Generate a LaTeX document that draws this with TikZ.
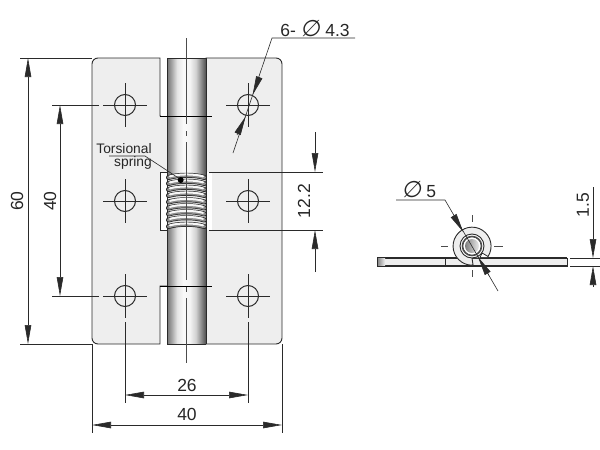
\documentclass[tikz,border=0pt]{standalone}
\usepackage{fontspec}
\setmainfont{Liberation Sans}
\newfontfamily\symfont[FakeSlant=0.15,Scale=1.3]{DejaVu Sans}
\usetikzlibrary{arrows.meta}
\definecolor{platefill}{HTML}{EEEEEE}
\definecolor{inkline}{HTML}{2A2A2A}
\pgfdeclarehorizontalshading{barrelshade}{100bp}{color(0bp)=(black!55); color(25bp)=(black!55); color(31bp)=(black!35); color(38bp)=(black!10); color(46bp)=(black!2); color(54bp)=(black!4); color(62bp)=(black!18); color(70bp)=(black!50); color(75bp)=(black!70); color(100bp)=(black!70)}
\tikzset{
  outline/.style={draw=inkline, line width=0.9pt},
  thinline/.style={draw=inkline, line width=0.6pt},
  centerline/.style={draw=black!70, line width=0.6pt},
  dimline/.style={draw=inkline, line width=0.6pt, {Triangle[length=19pt,width=6.5pt]}-{Triangle[length=19pt,width=6.5pt]}},
  toarrow/.style={draw=inkline, line width=0.6pt, -{Triangle[length=19pt,width=6.5pt]}},
  dimtext/.style={font=\fontsize{17.5}{18}\selectfont, inner sep=0pt, text=black!85},
  notetext/.style={font=\fontsize{13.8}{14}\selectfont, inner sep=0pt, text=black!85}
}
\begin{document}
\begin{tikzpicture}[x=1pt,y=-1pt]
  \useasboundingbox (0,0) rectangle (600,450);
  % plates
  \path[fill=platefill, outline] (160,344) [rounded corners=6pt] -- (92,344) -- (92,58) [sharp corners] -- (160,58) -- (160,116) -- (212,116) -- (212,286) -- (160,286) -- cycle;
  \path[fill=platefill, outline] (206,58) [rounded corners=6pt] -- (282,58) -- (282,344) [sharp corners] -- (206,344) -- cycle;
  \fill[white] (160,172) rectangle (167,230);
  \fill[white] (206.5,172) rectangle (211.5,230);
  \fill[white] (160.5,286.5) rectangle (167,344);
  \fill[white] (160.5,58) rectangle (167,115.5);
  \draw[thinline] (167,172) -- (160,172) -- (160,230) -- (167,230);
  % barrel
  \foreach \ya/\yb in {58/116, 116/176, 226/286, 286/344}
    \shade[shading=barrelshade] (167,\ya) rectangle (206,\yb);
  \draw[outline] (167,58) -- (167,344);
  \draw[outline] (206,58) -- (206,344);
  \draw[outline] (167,58) -- (206,58);
  \draw[outline] (167,344) -- (206,344);
  \draw[draw=black, line width=1pt] (160,116) -- (212,116);
  \draw[draw=black, line width=1pt] (160,286) -- (212,286);
  % spring
  \foreach \y in {176,182,188,194,200.5,206.5,212.5,218.5,225}{
    \draw[black!85, line width=5pt, line cap=round] (168.5,\y+1.5) .. controls (178,\y-1.5) and (195,\y-1.5) .. (204.5,\y+1.5);
    \draw[black!45, line width=3.6pt, line cap=round] (168.5,\y+1.5) .. controls (178,\y-1.5) and (195,\y-1.5) .. (204.5,\y+1.5);
    \draw[black!3, line width=2pt, line cap=round] (170,\y+0.4) .. controls (178,\y-2.2) and (195,\y-2.2) .. (203,\y+0.4);
  }
  % holes
  \foreach \hx in {125,248}
    \foreach \hy in {105,201,296}{
      \draw[outline, line width=1pt] (\hx,\hy) circle (10.5);
      \draw[thinline] (\hx-22,\hy) -- (\hx+22,\hy);
      \draw[thinline] (\hx,\hy-22) -- (\hx,\hy+22);
    }
  % center line of barrel
  \draw[centerline] (186.5,38) -- (186.5,124);
  \draw[centerline] (186.5,131) -- (186.5,136);
  \draw[centerline] (186.5,142) -- (186.5,280);
  \draw[centerline] (186.5,287) -- (186.5,292);
  \draw[centerline] (186.5,298) -- (186.5,363);
  % extension lines
  \draw[thinline] (20,58) -- (92,58);
  \draw[thinline] (20,344) -- (92,344);
  \draw[thinline] (52,105) -- (99,105);
  \draw[thinline] (52,296) -- (99,296);
  \draw[thinline] (92,344) -- (92,433);
  \draw[thinline] (282,344) -- (282,433);
  \draw[thinline] (125,322) -- (125,403);
  \draw[thinline] (248,322) -- (248,403);
  \draw[thinline] (209,172) -- (323,172);
  \draw[thinline] (209,230) -- (323,230);
  % dimensions
  \draw[dimline] (28,58) -- (28,344);
  \draw[dimline] (60,105) -- (60,296);
  \draw[dimline] (125,395) -- (248,395);
  \draw[dimline] (92,425) -- (282,425);
  \draw[toarrow] (315,132) -- (315,172);
  \draw[toarrow] (315,272) -- (315,230);
  \node[dimtext, rotate=90] (lblHeight) at (17,201) {60};
  \node[dimtext, rotate=90] (lblPitchV) at (50,201) {40};
  \node[dimtext] (lblPitchH) at (187,385) {26};
  \node[dimtext] (lblWidth) at (187,414) {40};
  \node[dimtext, rotate=90] (lblSpring) at (304,201) {12.2};
  % hole callout
  \node[dimtext] (lblHole) at (315,29) {6- {\symfont ∅} 4.3};
  \draw[thinline] (355,38) -- (272,38) -- (233,153);
  \draw[toarrow] (259,78) -- (252.6,95);
  \draw[toarrow] (237,135) -- (245.6,116.5);
  % spring note
  \node[notetext] (lblTorsional) at (124,149) {Torsional};
  \node[notetext] (lblCoil) at (133,163) {spring};
  \draw[thinline] (109,156) -- (145,156) -- (180,179);
  \fill[black] (180.7,180) circle (3);
  % side view
  \path[fill=platefill, outline] (377,258) rectangle (567,266);
  \draw[outline, line width=1.6pt] (377,258) -- (567,258);
  \draw[outline, line width=1.6pt] (377,266) -- (567,266);
  \shade[left color=black!45, right color=platefill] (378,258.8) rectangle (385,265.2);
  \draw[outline] (445,258) -- (445,266);
  \draw[fill=platefill, outline] (488,256.5) arc (33:-273:19) -- (472,258) -- (480,258) -- (482,253) -- cycle;
  \fill[white] (487.5,257.2) -- (481,257.2) -- (482.5,254) -- cycle;
  \draw[fill=white, outline] (472,246) circle (12);
  \draw[draw=black!70, line width=1.6pt] (472,246) circle (9.5);
  \shade[left color=black!50, right color=black!8] (472,246) circle (7);
  \draw[centerline] (441,246) -- (448,246);
  \draw[centerline] (494,246) -- (503,246);
  \draw[centerline] (472,215) -- (472,222);
  \draw[centerline] (472,270) -- (472,277);
  \node[dimtext] (lblPin) at (419,190) {{\symfont ∅} 5};
  \draw[thinline] (396,200) -- (445,200) -- (498,291);
  \draw[toarrow] (455,218) -- (463.3,232);
  \draw[toarrow] (489,275.5) -- (478,257);
  \draw[thinline] (570,258) -- (600,258);
  \draw[thinline] (570,266) -- (600,266);
  \draw[toarrow] (593,187) -- (593,258);
  \draw[toarrow] (593,287) -- (593,266);
  \node[dimtext, rotate=90] (lblThick) at (583,205) {1.5};
\end{tikzpicture}
\end{document}
